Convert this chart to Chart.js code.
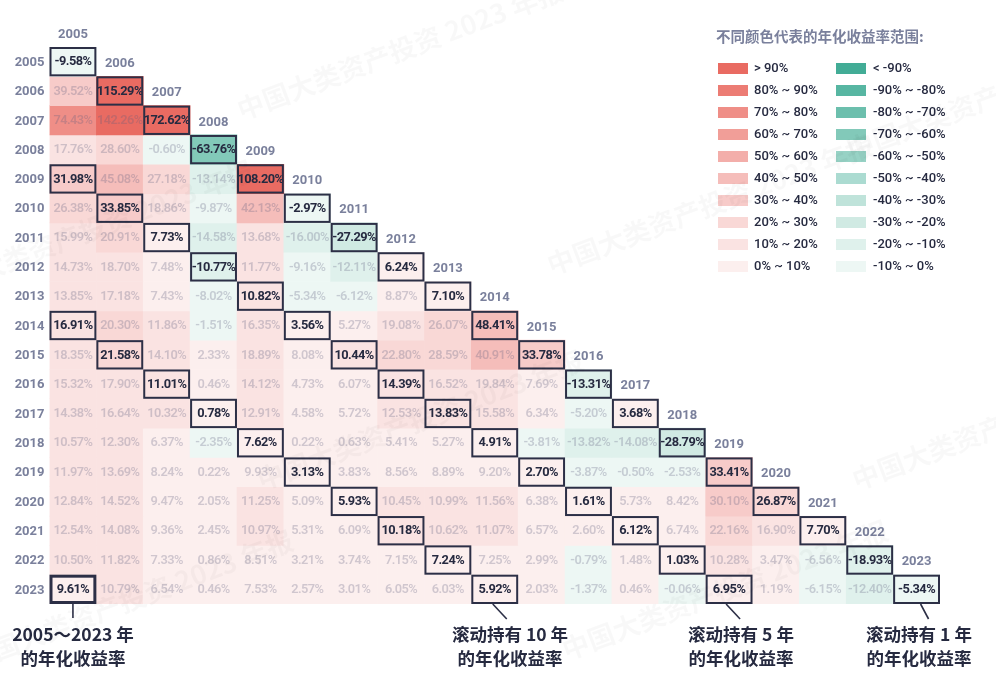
<!DOCTYPE html>
<html><head><meta charset="utf-8">
<script src="https://cdn.jsdelivr.net/npm/chart.js@4.4.1/dist/chart.umd.min.js"></script>
<style>html,body{margin:0;padding:0;background:#fff}#wrap{width:996px;height:676px;position:relative}</style>
</head><body><div id="wrap"><canvas id="c" width="996" height="676"></canvas></div>
<script>
// ---------- DATA ----------
const years = ['2005','2006','2007','2008','2009','2010','2011','2012','2013','2014','2015','2016','2017','2018','2019','2020','2021','2022','2023'];
// each array: annualized return ending in row year, starting in column year 2005..rowYear
const r2005 = [-9.58];
const r2006 = [39.52, 115.29];
const r2007 = [74.43, 142.26, 172.62];
const r2008 = [17.76, 28.60, -0.60, -63.76];
const r2009 = [31.98, 45.08, 27.18, -13.14, 108.20];
const r2010 = [26.38, 33.85, 18.86, -9.87, 42.13, -2.97];
const r2011 = [15.99, 20.91, 7.73, -14.58, 13.68, -16.00, -27.29];
const r2012 = [14.73, 18.70, 7.48, -10.77, 11.77, -9.16, -12.11, 6.24];
const r2013 = [13.85, 17.18, 7.43, -8.02, 10.82, -5.34, -6.12, 8.87, 7.10];
const r2014 = [16.91, 20.30, 11.86, -1.51, 16.35, 3.56, 5.27, 19.08, 26.07, 48.41];
const r2015 = [18.35, 21.58, 14.10, 2.33, 18.89, 8.08, 10.44, 22.80, 28.59, 40.91, 33.78];
const r2016 = [15.32, 17.90, 11.01, 0.46, 14.12, 4.73, 6.07, 14.39, 16.52, 19.84, 7.69, -13.31];
const r2017 = [14.38, 16.64, 10.32, 0.78, 12.91, 4.58, 5.72, 12.53, 13.83, 15.58, 6.34, -5.20, 3.68];
const r2018 = [10.57, 12.30, 6.37, -2.35, 7.62, 0.22, 0.63, 5.41, 5.27, 4.91, -3.81, -13.82, -14.08, -28.79];
const r2019 = [11.97, 13.69, 8.24, 0.22, 9.93, 3.13, 3.83, 8.56, 8.89, 9.20, 2.70, -3.87, -0.50, -2.53, 33.41];
const r2020 = [12.84, 14.52, 9.47, 2.05, 11.25, 5.09, 5.93, 10.45, 10.99, 11.56, 6.38, 1.61, 5.73, 8.42, 30.10, 26.87];
const r2021 = [12.54, 14.08, 9.36, 2.45, 10.97, 5.31, 6.09, 10.18, 10.62, 11.07, 6.57, 2.60, 6.12, 6.74, 22.16, 16.90, 7.70];
const r2022 = [10.50, 11.82, 7.33, 0.86, 8.51, 3.21, 3.74, 7.15, 7.24, 7.25, 2.99, -0.79, 1.48, 1.03, 10.28, 3.47, -6.56, -18.93];
const r2023 = [9.61, 10.79, 6.54, 0.46, 7.53, 2.57, 3.01, 6.05, 6.03, 5.92, 2.03, -1.37, 0.46, -0.06, 6.95, 1.19, -6.15, -12.40, -5.34];
const rows = [r2005,r2006,r2007,r2008,r2009,r2010,r2011,r2012,r2013,r2014,r2015,r2016,r2017,r2018,r2019,r2020,r2021,r2022,r2023];

// holding periods highlighted (years)
const highlightSpans = [1, 5, 10];

// legend bins
const posLabels = ['> 90%','80% ~ 90%','70% ~ 80%','60% ~ 70%','50% ~ 60%','40% ~ 50%','30% ~ 40%','20% ~ 30%','10% ~ 20%','0% ~ 10%'];
const negLabels = ['< -90%','-90% ~ -80%','-80% ~ -70%','-70% ~ -60%','-60% ~ -50%','-50% ~ -40%','-40% ~ -30%','-30% ~ -20%','-20% ~ -10%','-10% ~ 0%'];
const posColors = ['#e96b62','#ec7c74','#ef8e87','#f19e98','#f3aeaa','#f5bdba','#f7cbc9','#f9d8d6','#fae3e2','#fcefee'];
const negColors = ['#42ac96','#57b6a2','#6cbfad','#82c9b9','#97d2c5','#abdbd1','#bfe3da','#d0eae3','#dff1ec','#edf7f4'];

function colorFor(v){
  if (v >= 0){ let b = Math.min(9, Math.floor(v/10)); return posColors[9-b]; }
  let b = Math.min(9, Math.floor(-v/10)); return negColors[9-b];
}
function isHi(ri, ci){
  const span = ri - ci + 1;
  return highlightSpans.includes(span) || (ri === years.length-1 && ci === 0);
}

const TXT_DARK = '#262a40';
const TXT_AXIS = '#7a809c';

const datasets = rows.map((vals, ri) => ({
  label: years[ri],
  data: years.map((_, ci) => ci <= ri ? [ri - 0.5, ri + 0.5] : null),
  backgroundColor: ctx => colorFor(vals[ctx.dataIndex]),
  borderWidth: 0,
  borderSkipped: false,
  barPercentage: 1,
  categoryPercentage: 1
}));

const cellPlugin = {
  id: 'cells',
  afterDatasetsDraw(chart){
    const ctx = chart.ctx;
    const xs = chart.scales.x, ys = chart.scales.y;
    ctx.save();
    ctx.textAlign = 'center'; ctx.textBaseline = 'middle';
    // values
    rows.forEach((vals, ri) => {
      const meta = chart.getDatasetMeta(ri);
      vals.forEach((v, ci) => {
        const el = meta.data[ci];
        const p = el.getProps(['x','y','base','width'], true);
        const cy = (p.y + p.base)/2;
        const hi = isHi(ri, ci);
        ctx.font = (hi ? '700 ' : '600 ') + '12.8px Roboto, "DejaVu Sans", sans-serif';
        ctx.fillStyle = hi ? TXT_DARK : 'rgba(95,95,125,0.28)';
        try{ ctx.letterSpacing = '-0.55px'; }catch(e){}
        ctx.fillText(v.toFixed(2) + '%', p.x, cy + 0.5);
      });
    });
    // borders
    rows.forEach((vals, ri) => {
      const meta = chart.getDatasetMeta(ri);
      vals.forEach((v, ci) => {
        if (!isHi(ri, ci)) return;
        const el = meta.data[ci];
        const p = el.getProps(['x','y','base','width'], true);
        const top = Math.min(p.y, p.base), h = Math.abs(p.base - p.y);
        const big = (ri === years.length-1 && ci === 0);
        const lw = big ? 3 : 2;
        ctx.lineWidth = lw; ctx.strokeStyle = '#2c2f46';
        ctx.strokeRect(p.x - p.width/2 + lw/2, top + lw/2, p.width - lw, h - lw);
      });
    });
    // column headers & row labels
    ctx.font = '700 13px Roboto, "DejaVu Sans", sans-serif';
    try{ ctx.letterSpacing = '0px'; }catch(e){}
    ctx.fillStyle = TXT_AXIS;
    years.forEach((y, i) => {
      ctx.textAlign = 'center';
      ctx.fillText(y, xs.getPixelForValue(i), ys.getPixelForValue(i - 1) + 2);
      ctx.textAlign = 'right';
      ctx.fillText(y, chart.chartArea.left - 5, ys.getPixelForValue(i) + 1);
    });
    ctx.restore();
  }
};

const decoPlugin = {
  id: 'deco',
  beforeDraw(chart){
    const ctx = chart.ctx;
    ctx.save();
    ctx.fillStyle = '#ffffff';
    ctx.fillRect(0,0,chart.width,chart.height);
    ctx.restore();
  },
  afterDraw(chart){
    const ctx = chart.ctx;
    const xs = chart.scales.x, ys = chart.scales.y;
    const last = years.length - 1;
    const bottom = ys.getPixelForValue(last + 0.5);
    ctx.save();
    // legend
    ctx.fillStyle = TXT_AXIS;
    ctx.font = '700 14.5px "Noto Sans CJK SC", sans-serif';
    ctx.textAlign = 'left'; ctx.textBaseline = 'middle';
    ctx.fillText('不同颜色代表的年化收益率范围:', 716, 36);
    ctx.font = '500 13px Roboto, "DejaVu Sans", sans-serif';
    for (let i = 0; i < 10; i++){
      const yc = 69 + i * 22;
      ctx.fillStyle = posColors[i]; ctx.fillRect(718, yc - 6, 30, 11);
      ctx.fillStyle = negColors[i]; ctx.fillRect(836, yc - 6, 30, 11);
      ctx.fillStyle = TXT_DARK;
      ctx.fillText(posLabels[i], 754, yc);
      ctx.fillText(negLabels[i], 873, yc);
    }
    // callouts
    ctx.strokeStyle = '#2c2f46'; ctx.lineWidth = 1.6;
    const cx0 = xs.getPixelForValue(0);
    ctx.beginPath(); ctx.moveTo(cx0, bottom); ctx.lineTo(cx0, bottom + 14); ctx.stroke();
    const diag = [[last - 9, -2, 12], [last - 4, -3, 11], [last, 4, 12]];
    diag.forEach(([ci, a, b]) => {
      const cx = xs.getPixelForValue(ci);
      ctx.beginPath(); ctx.moveTo(cx + a, bottom); ctx.lineTo(cx + b, bottom + 15); ctx.stroke();
    });
    ctx.fillStyle = TXT_DARK;
    ctx.textAlign = 'center';
    ctx.font = '700 17.5px "Noto Sans CJK SC", sans-serif';
    const notes = [[73, '2005～2023 年'], [510, '滚动持有 10 年'], [741, '滚动持有 5 年'], [919, '滚动持有 1 年']];
    notes.forEach(([x, t]) => {
      ctx.fillText(t, x, 634);
      ctx.fillText('的年化收益率', x, 658);
    });
    // watermark
    ctx.fillStyle = 'rgba(0,0,0,0.027)';
    ctx.font = '700 27px "Noto Sans CJK SC", sans-serif';
    const wm = '中国大类资产投资 2023 年报';
    [[400,50],[710,205],[90,230],[420,420],[725,590],[1010,90],[1015,420],[130,600]].forEach(([x,y]) => {
      ctx.save(); ctx.translate(x,y); ctx.rotate(-0.36); ctx.fillText(wm, 0, 0); ctx.restore();
    });
    ctx.restore();
  }
};

new Chart(document.getElementById('c'), {
  type: 'bar',
  data: { labels: years, datasets },
  options: {
    responsive: false,
    animation: false,
    events: [],
    layout: { padding: { left: 49.5, right: 56, top: 47, bottom: 72 } },
    plugins: { legend: { display: false }, tooltip: { enabled: false } },
    scales: {
      x: { type: 'category', stacked: true, display: false, offset: true },
      y: { type: 'linear', reverse: true, min: -0.5, max: 18.5, display: false }
    }
  },
  plugins: [decoPlugin, cellPlugin]
});
</script>
</body></html>
